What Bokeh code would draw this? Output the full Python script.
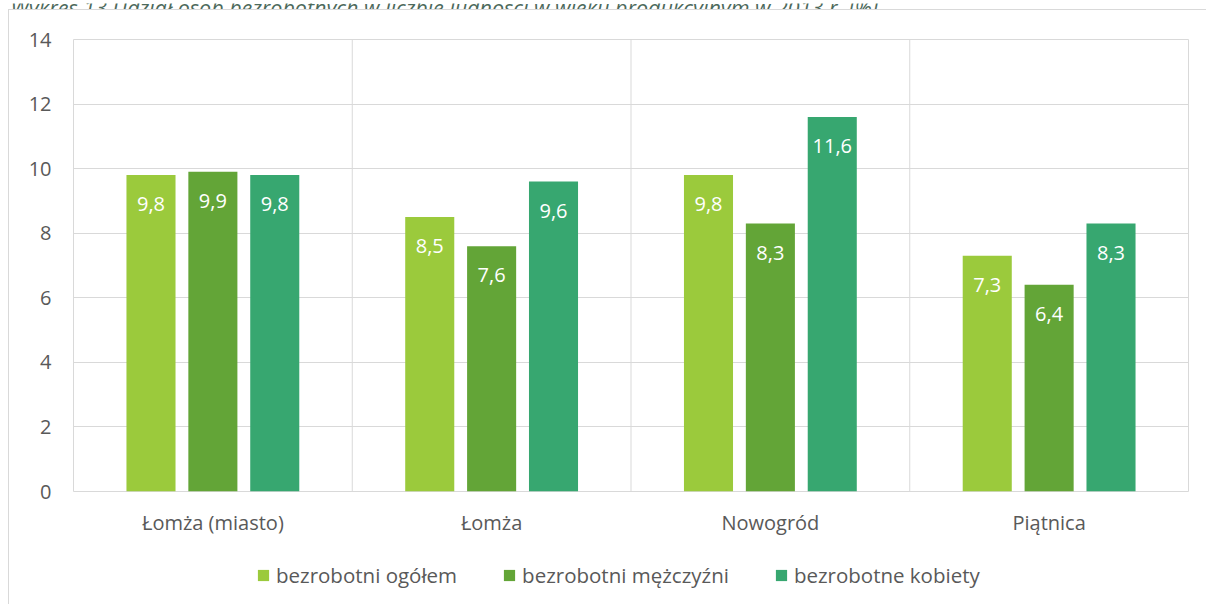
from bokeh.plotting import figure
from bokeh.layouts import column
from bokeh.models import (ColumnDataSource, FactorRange, Span, Legend, LegendItem,
                          Label, FixedTicker, Range1d)
from bokeh.transform import dodge
from bokeh.core.properties import value
from bokeh.embed import file_html
from bokeh.resources import INLINE

# ---- data ----
categories = ["Łomża (miasto)", "Łomża", "Nowogród", "Piątnica"]
series_names = ["bezrobotni ogółem", "bezrobotni mężczyźni", "bezrobotne kobiety"]
ogolem = [9.8, 8.5, 9.8, 7.3]
mezczyzni = [9.9, 7.6, 8.3, 6.4]
kobiety = [9.8, 9.6, 11.6, 8.3]
y_ticks = [0, 2, 4, 6, 8, 10, 12, 14]
title_text = "Wykres 13 Udział osób bezrobotnych w liczbie ludności w wieku produkcyjnym w 2013 r. [%]"

# ---- style ----
colors = ["#9BCA3C", "#63A537", "#37A770"]
FONT = "Open Sans"
TXT = "#595959"
GRID = "#D9D9D9"

series = [ogolem, mezczyzni, kobiety]


def fmt(v):
    return f"{v:.1f}".replace(".", ",")


data = dict(cat=categories)
for i, s in enumerate(series):
    data[f"s{i}"] = s
    data[f"l{i}"] = [fmt(v) for v in s]
source = ColumnDataSource(data)


def blank_fig(w, h):
    f = figure(width=w, height=h, x_range=Range1d(0, w), y_range=Range1d(0, h),
               x_axis_type=None, y_axis_type=None, output_backend="svg",
               toolbar_location=None, min_border=0, min_border_left=0,
               min_border_right=0, min_border_top=0, min_border_bottom=0)
    f.outline_line_color = None
    f.grid.visible = False
    return f


# ---- title strip (mostly cut off, as in the source page) ----
TW, TH = 1206, 9
title_fig = blank_fig(TW, TH)
title_fig.add_layout(Label(x=10, y=5, text=title_text, text_font=FONT,
                           text_font_style="italic", text_font_size="21.5px",
                           text_color="#4D6A5C", text_baseline="alphabetic",
                           text_align="left"))

# ---- main chart ----
W, H = 1197, 535
p = figure(x_range=FactorRange(*categories, range_padding=0), y_range=(0, 14),
           width=W, height=H, output_backend="svg", toolbar_location=None,
           min_border_left=64, min_border_right=18, min_border_top=29,
           min_border_bottom=54)

offsets = [-0.222, 0.0, 0.222]
bar_w = 0.176
for i in range(3):
    p.vbar(x=dodge("cat", offsets[i], range=p.x_range), top=f"s{i}", width=bar_w,
           source=source, fill_color=colors[i], line_color=None)
    p.text(x=dodge("cat", offsets[i], range=p.x_range), y=f"s{i}", text=f"l{i}",
           source=source, text_align="center", text_baseline="middle", y_offset=29,
           text_color="white", text_font=value(FONT), text_font_size="20px")

for k in range(1, len(categories)):
    p.add_layout(Span(location=k, dimension="height", line_color=GRID, line_width=1))

p.xgrid.grid_line_color = None
p.ygrid.ticker = FixedTicker(ticks=y_ticks)
p.ygrid.grid_line_color = GRID
p.ygrid.grid_line_width = 1
p.outline_line_color = GRID
p.outline_line_width = 1

p.yaxis.ticker = FixedTicker(ticks=y_ticks)
for ax in (p.xaxis[0], p.yaxis[0]):
    ax.axis_line_color = None
    ax.major_tick_line_color = None
    ax.minor_tick_line_color = None
    ax.major_tick_out = 0
    ax.major_tick_in = 0
    ax.minor_tick_out = 0
    ax.minor_tick_in = 0
    ax.major_label_text_font = FONT
    ax.major_label_text_font_size = "20px"
    ax.major_label_text_color = TXT
p.yaxis.major_label_standoff = 22
p.xaxis.major_label_standoff = 17

# ---- legend strip (swatch renderers have zero size, only the legend shows) ----
LW, LH = 1197, 59
leg_fig = blank_fig(LW, LH)
leg_renderers = [leg_fig.vbar(x=f"s{i}", top=0, bottom=0, width=0, source=source,
                              fill_color=colors[i], line_color=None) for i in range(3)]
legend = Legend(items=[LegendItem(label=series_names[i], renderers=[leg_renderers[i]])
                       for i in range(3)],
                orientation="horizontal", location=(183, 15), glyph_width=14, glyph_height=14,
                label_standoff=6, spacing=45, padding=0, margin=0, border_line_color=None,
                background_fill_alpha=0, label_text_font=FONT, label_text_font_size="20.5px",
                label_text_color=TXT, label_height=14)
leg_fig.add_layout(legend, "center")

box = column(p, leg_fig, styles={"margin-left": "8px",
                                 "border-left": "1px solid #D9D9D9",
                                 "border-top": "1px solid #D9D9D9"})
layout = column(title_fig, box)

open("out.html", "w").write(file_html(layout, INLINE))
